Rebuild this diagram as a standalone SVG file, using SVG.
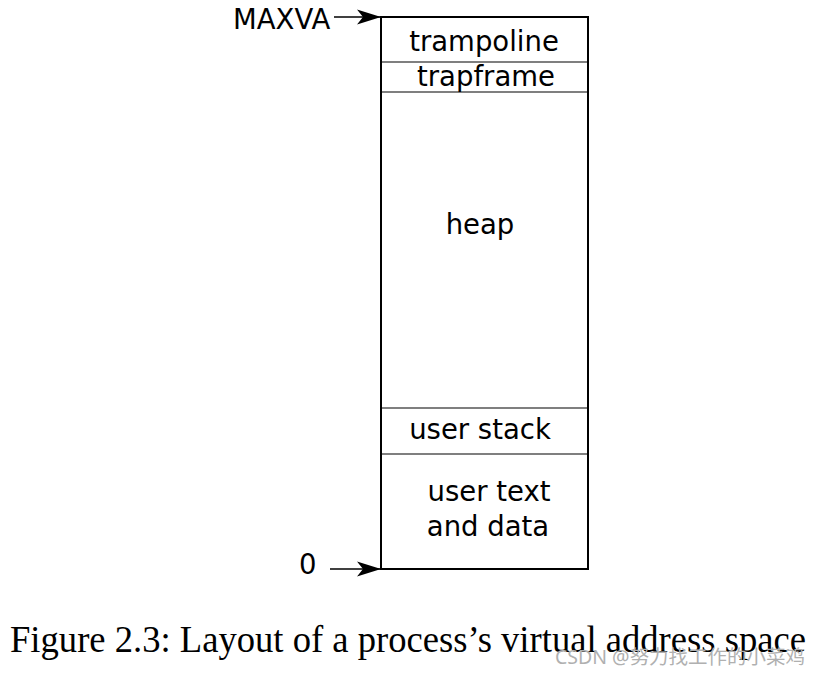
<svg xmlns="http://www.w3.org/2000/svg" width="821" height="673" viewBox="0 0 821 673">
<style>
.lbl{font-family:"DejaVu Sans",sans-serif;font-size:27.5px;fill:#000}
.div{stroke:#000;stroke-width:1.2}
.cap{font-family:"Liberation Serif",serif;font-size:37px;fill:#000}
.wm{font-family:"Noto Sans","Noto Sans CJK SC",sans-serif;font-size:19px;fill:#b0b0b0}
</style>
<defs>
<marker id="ah" markerWidth="24" markerHeight="16" refX="24" refY="8" orient="auto" markerUnits="userSpaceOnUse">
<path d="M0,0.5 L24,8 L0,15.5 L6,8 Z" fill="#000"/>
</marker>
</defs>
<rect width="821" height="673" fill="#fff"/>
<g id="memory">
<rect x="381" y="17" width="207" height="552" fill="none" stroke="#000" stroke-width="2"/>
<line class="div" x1="381" y1="62" x2="588" y2="62"/>
<line class="div" x1="381" y1="92" x2="588" y2="92"/>
<line class="div" x1="381" y1="408" x2="588" y2="408"/>
<line class="div" x1="381" y1="454" x2="588" y2="454"/>
</g>
<g id="trampoline"><text class="lbl" x="484" y="51" text-anchor="middle">trampoline</text></g>
<g id="trapframe"><text class="lbl" x="486" y="86" text-anchor="middle">trapframe</text></g>
<g id="heap"><text class="lbl" x="480" y="234" text-anchor="middle">heap</text></g>
<g id="userstack"><text class="lbl" x="480" y="439" text-anchor="middle">user stack</text></g>
<g id="usertext"><text class="lbl" x="489" y="501" text-anchor="middle">user text</text><text class="lbl" x="488" y="536" text-anchor="middle">and data</text></g>
<g id="maxva"><text class="lbl" x="233" y="29">MAXVA</text></g>
<g id="zero"><text class="lbl" x="299" y="574">0</text></g>
<g id="connectors">
<line x1="334" y1="17" x2="381" y2="17" stroke="#000" stroke-width="1.6" marker-end="url(#ah)"/>
<line x1="330" y1="569" x2="381" y2="569" stroke="#000" stroke-width="1.6" marker-end="url(#ah)"/>
</g>
<text class="cap" x="10" y="652" textLength="796" lengthAdjust="spacingAndGlyphs">Figure 2.3: Layout of a process’s virtual address space</text>
<text class="wm" x="555" y="664" textLength="250" lengthAdjust="spacingAndGlyphs">CSDN @努力找工作的小菜鸡</text>
</svg>
